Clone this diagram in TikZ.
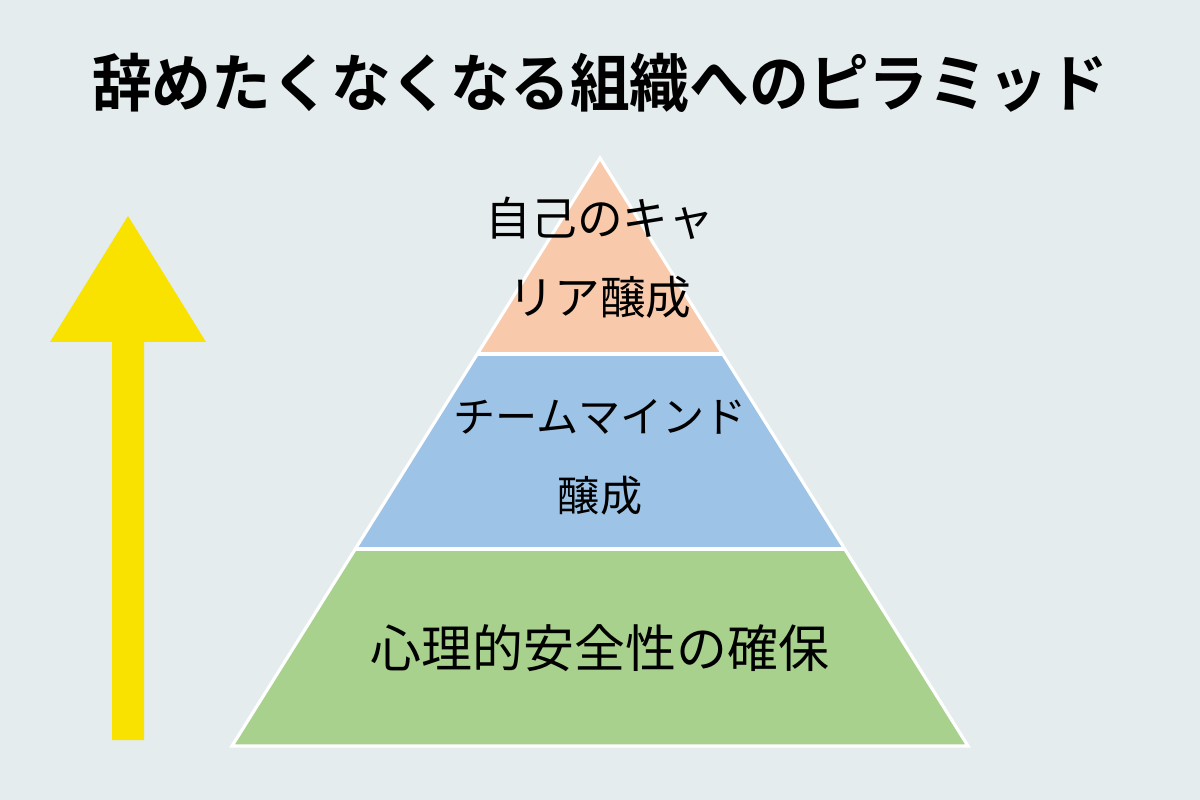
\documentclass[tikz,border=0pt]{standalone}
\usepackage{fontspec}
\newfontfamily\jp[BoldFont={* Bold}]{Noto Sans CJK JP}
\definecolor{bg}{HTML}{E4ECEE}
\definecolor{tierA}{HTML}{F8CAAB}
\definecolor{tierB}{HTML}{9DC3E6}
\definecolor{tierC}{HTML}{A9D18E}
\definecolor{arrowY}{HTML}{F9E100}
\tikzset{
  tier/.style={draw=white, line width=1.8pt, line join=miter},
  lbl/.style={font=\jp\fontsize{26pt}{45pt}\selectfont, align=center, text=black, inner sep=0pt},
  lblmid/.style={font=\jp\fontsize{24pt}{45pt}\selectfont, align=center, text=black, inner sep=0pt},
  big/.style={font=\jp\fontsize{29pt}{36pt}\selectfont, text=black, inner sep=0pt},
  ttl/.style={font=\jp\bfseries\fontsize{34pt}{40pt}\selectfont, text=black, inner sep=0pt}
}
\begin{document}
\begin{tikzpicture}[x=0.02cm, y=-0.02cm]
\fill[bg] (0,0) rectangle (1200,800);
\useasboundingbox (0,0) rectangle (1200,800);
% title
\node[ttl, yscale=1.05] (title) at (600,83) {辞めたくなくなる組織へのピラミッド};
% pyramid tiers
\coordinate (apex) at (600,158);
\coordinate (bl) at (232,746);
\coordinate (br) at (968,746);
\fill[tierA] (600,158) -- (477,354) -- (723,354) -- cycle;
\fill[tierB] (477,354) -- (355,549) -- (845,549) -- (723,354) -- cycle;
\fill[tierC] (355,549) -- (bl) -- (br) -- (845,549) -- cycle;
\draw[tier] (apex) -- (bl) -- (br) -- cycle;
\draw[tier] (477,354) -- (723,354);
\draw[tier] (355,549) -- (845,549);
% labels
\node[lbl] (top) at (600,258) {自己のキャ\\リア醸成};
\node[lblmid] (mid) at (600,457) {チームマインド\\醸成};
\node[big] (bot) at (600,648) {心理的安全性の確保};
% arrow
\fill[arrowY] (112,740) -- (112,342) -- (50,342) -- (128,216) -- (206,342) -- (144,342) -- (144,740) -- cycle;
\end{tikzpicture}
\end{document}
